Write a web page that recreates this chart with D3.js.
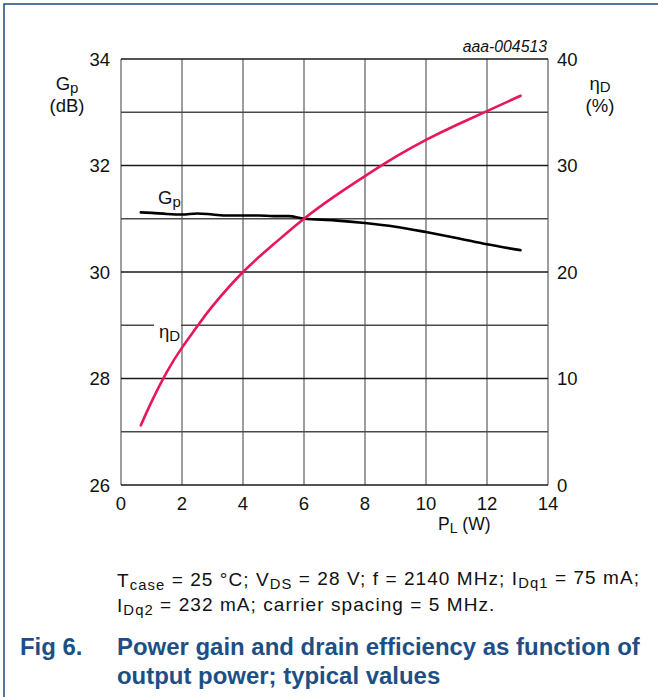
<!DOCTYPE html>
<html>
<head>
<meta charset="utf-8">
<script src="https://cdn.jsdelivr.net/npm/d3@7"></script>
<style>
  html, body { margin: 0; padding: 0; background: #fff; }
  svg { display: block; font-family: "Liberation Sans", Arial, sans-serif; }
</style>
</head>
<body>
<svg id="chart" width="658" height="697"></svg>
<script>
// ---- data ----
const gpP   = [0.65, 1.0, 1.5, 2.0, 2.5, 3.0, 3.5, 4.0, 4.5, 5.0, 5.5, 6.0, 7.0, 8.0, 9.0, 10.0, 11.0, 12.0, 13.1];
const gpVal = [31.12, 31.11, 31.09, 31.08, 31.10, 31.08, 31.06, 31.06, 31.06, 31.05, 31.05, 31.00, 30.97, 30.92, 30.85, 30.75, 30.64, 30.52, 30.41];
const etaP   = [0.65, 1.0, 1.5, 2.0, 2.5, 3.0, 4.0, 5.0, 6.0, 7.0, 8.0, 9.0, 10.0, 11.0, 12.0, 13.1];
const etaVal = [5.6, 7.8, 10.6, 12.9, 14.9, 16.8, 20.0, 22.6, 25.0, 27.1, 29.0, 30.8, 32.4, 33.8, 35.1, 36.55];
const xTicks = [0, 2, 4, 6, 8, 10, 12, 14];
const gTicks = [26, 28, 30, 32, 34];
const gGrid  = [26, 27, 28, 29, 30, 31, 32, 33, 34];
const eTicks = [0, 10, 20, 30, 40];

// ---- layout ----
const L = 121, R = 548, T = 59, B = 485;
const svg = d3.select("#chart");
const x  = d3.scaleLinear().domain([0, 14]).range([L, R]);
const yG = d3.scaleLinear().domain([26, 34]).range([B, T]);
const yE = d3.scaleLinear().domain([0, 40]).range([B, T]);

// frame
svg.append("path").attr("d", "M4,697V4H658").attr("fill", "none")
  .attr("stroke", "#1b4a7a").attr("stroke-width", 1.5);

// grid: vertical
svg.append("g").selectAll("line").data(xTicks).join("line")
  .attr("x1", d => x(d)).attr("x2", d => x(d)).attr("y1", T).attr("y2", B)
  .attr("stroke", "#6a6a6a").attr("stroke-width", 1.3);
// grid: horizontal
svg.append("g").selectAll("line").data(gGrid).join("line")
  .attr("x1", L).attr("x2", R).attr("y1", d => yG(d)).attr("y2", d => yG(d))
  .attr("stroke", d => (d % 2 === 0 ? "#1a1a1a" : "#4a4a4a"))
  .attr("stroke-width", 1.3);

// gap in the 29 gridline behind the eta label
svg.append("rect").attr("x", 154).attr("y", yG(29) - 3).attr("width", 27).attr("height", 6).attr("fill", "#fff");

// axes tick labels
const fs = 18.5;
svg.append("g").selectAll("text").data(gTicks).join("text")
  .attr("x", 110).attr("y", d => yG(d) + 6.5).attr("text-anchor", "end")
  .attr("font-size", fs).attr("fill", "#111").text(d => d);
svg.append("g").selectAll("text").data(eTicks).join("text")
  .attr("x", 557).attr("y", d => yE(d) + 6.5).attr("text-anchor", "start")
  .attr("font-size", fs).attr("fill", "#111").text(d => d);
svg.append("g").selectAll("text").data(xTicks).join("text")
  .attr("x", d => x(d)).attr("y", 510).attr("text-anchor", "middle")
  .attr("font-size", fs).attr("fill", "#111").text(d => d);

// axis titles
function subText(g, xx, yy, main, sub, anchor, size, subSize, dy) {
  const t = g.append("text").attr("x", xx).attr("y", yy).attr("font-size", size)
    .attr("fill", "#111").attr("text-anchor", anchor);
  t.append("tspan").text(main);
  t.append("tspan").attr("font-size", subSize).attr("dy", dy).text(sub);
  return t;
}
subText(svg, 67, 90, "G", "p", "middle", fs, 15, 3);
svg.append("text").attr("x", 67).attr("y", 112).attr("text-anchor", "middle")
  .attr("font-size", fs).attr("fill", "#111").text("(dB)");
subText(svg, 600, 90, "η", "D", "middle", fs, 15, 2);
svg.append("text").attr("x", 600).attr("y", 112).attr("text-anchor", "middle")
  .attr("font-size", fs).attr("fill", "#111").text("(%)");
subText(svg, 438, 530, "P", "L", "start", 17.5, 14, 3).append("tspan").attr("dy", -3).attr("font-size", 17.5).text(" (W)");

svg.append("text").attr("x", 547).attr("y", 52).attr("text-anchor", "end")
  .attr("font-size", 15.8).attr("font-style", "italic").attr("fill", "#111").text("aaa-004513");

// curves
const lineG = d3.line().x((d, i) => x(gpP[i])).y(d => yG(d)).curve(d3.curveMonotoneX);
const lineE = d3.line().x((d, i) => x(etaP[i])).y(d => yE(d)).curve(d3.curveNatural);
svg.append("path").attr("d", lineG(gpVal)).attr("fill", "none")
  .attr("stroke", "#000").attr("stroke-width", 2.6).attr("stroke-linecap", "round");
svg.append("path").attr("d", lineE(etaVal)).attr("fill", "none")
  .attr("stroke", "#e8175d").attr("stroke-width", 2.6).attr("stroke-linecap", "round");

// curve labels
subText(svg, 158, 204, "G", "p", "start", fs, 15, 3);
subText(svg, 159, 338, "η", "D", "start", fs, 15, 3);

// caption
const cap = svg.append("g").attr("font-size", 19).attr("fill", "#111");
function sub(t, s) {
  t.append("tspan").attr("font-size", "0.78em").attr("dy", "0.2em").text(s);
}
function main(t, s, back) {
  const ts = t.append("tspan").text(s);
  if (back) ts.attr("dy", "-0.2em");
}
const l1 = cap.append("text").attr("x", 117).attr("y", 587);
main(l1, "T"); sub(l1, "case"); main(l1, " = 25 °C; V", 1); sub(l1, "DS");
main(l1, " = 28 V; f = 2140 MHz; I", 1); sub(l1, "Dq1"); main(l1, " = 75 mA;", 1);
const l2 = cap.append("text").attr("x", 117).attr("y", 612);
main(l2, "I"); sub(l2, "Dq2"); main(l2, " = 232 mA; carrier spacing = 5 MHz.", 1);
const n1 = l1.text().length;
const w1 = l1.node().getComputedTextLength();
const ls = Math.max(0, (522 - w1) / (n1 - 1));
cap.selectAll("text").attr("letter-spacing", ls);

const title = svg.append("g").attr("font-size", 21).attr("font-weight", "bold").attr("fill", "#1d4f86");
title.append("text").attr("x", 20).attr("y", 655).text("Fig 6.");
const t1 = title.append("text").attr("x", 117).attr("y", 655).text("Power gain and drain efficiency as function of");
title.append("text").attr("x", 117).attr("y", 684).text("output power; typical values");
const wt = t1.node().getComputedTextLength();
title.attr("font-size", 21 * 523 / wt);
</script>
</body>
</html>
